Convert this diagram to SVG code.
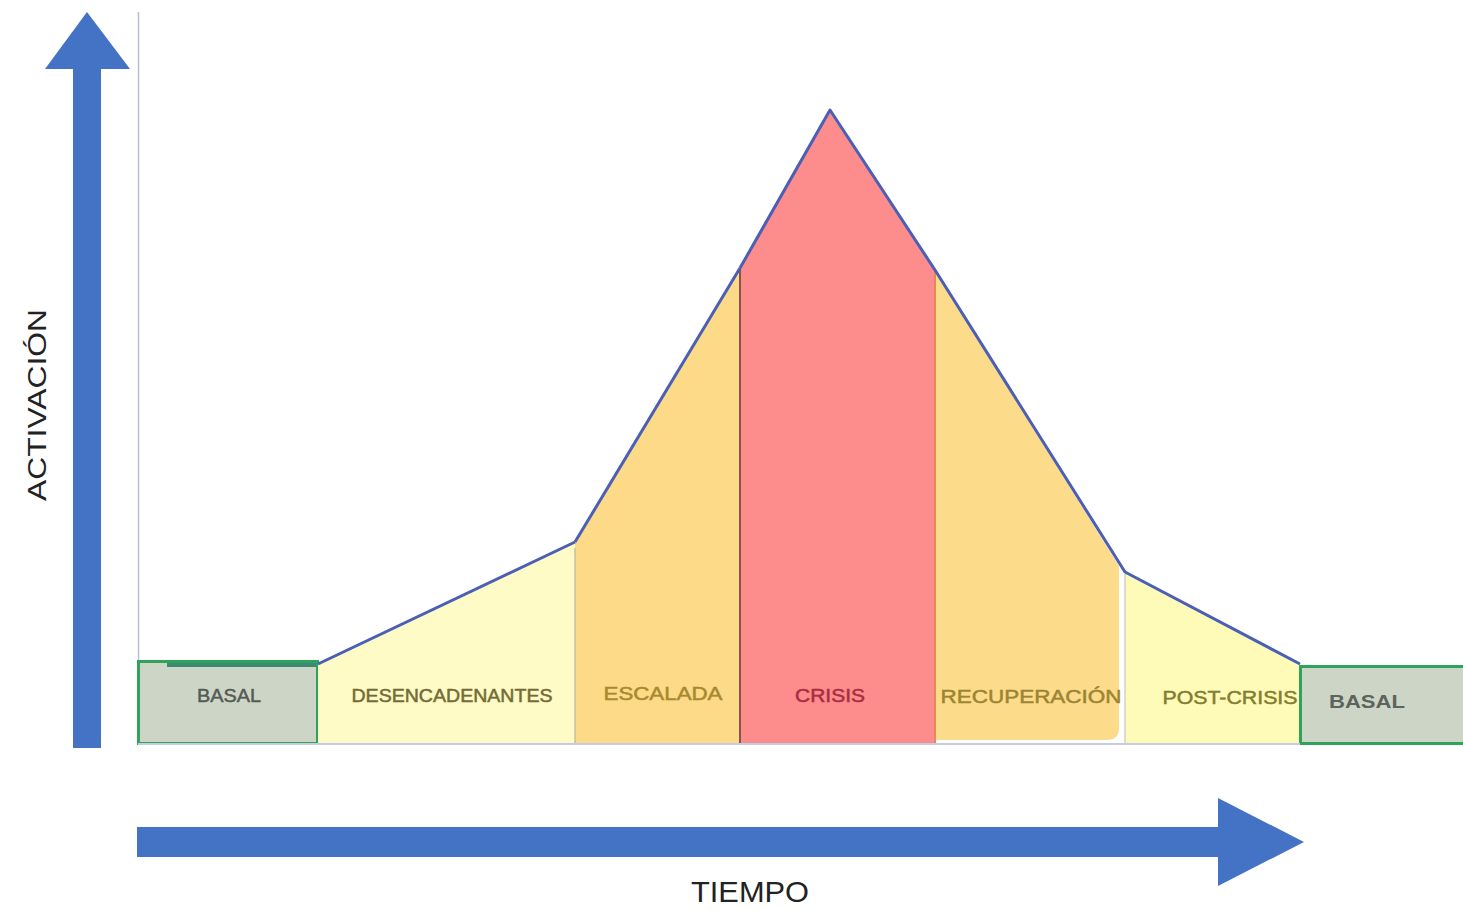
<svg xmlns="http://www.w3.org/2000/svg" width="1463" height="910" viewBox="0 0 1463 910">
<style>
.lbl{font-family:"Liberation Sans",Arial,sans-serif;font-size:19px;text-anchor:middle;stroke-width:0.5px}
.axis{fill:#4472c4}
.ax-t{font-family:"Liberation Sans",Arial,sans-serif;fill:#222;text-anchor:middle}
.basal{fill:#cdd6c6;stroke:#2fa35a;stroke-width:3}
.curve{fill:none;stroke:#4a5fb5;stroke-width:3;stroke-linejoin:round}
</style>
<rect width="1463" height="910" fill="#ffffff"/>

<g id="axis-y">
<rect class="axis" x="73" y="66" width="28" height="682"/>
<polygon class="axis" points="87,12 130,69 45,69"/>
<line x1="138.5" y1="12" x2="138.5" y2="662" stroke="#b8bfd0" stroke-width="1.5"/>
<text class="ax-t" transform="translate(46,405) rotate(-90)" font-size="26" textLength="192" lengthAdjust="spacingAndGlyphs">ACTIVACIÓN</text>
</g>

<g id="axis-x">
<rect class="axis" x="137" y="827" width="1085" height="30"/>
<polygon class="axis" points="1218,798 1304,842 1218,886"/>
<text class="ax-t" x="750" y="902" font-size="29" textLength="118" lengthAdjust="spacingAndGlyphs">TIEMPO</text>
</g>

<g id="basal-left">
<rect class="basal" x="138.5" y="661.5" width="179" height="82"/>
<line x1="167" y1="665" x2="316" y2="665" stroke="#3c8a74" stroke-width="4"/>
<text class="lbl" x="229" y="702" fill="#555a55" stroke="#555a55" textLength="64" lengthAdjust="spacingAndGlyphs">BASAL</text>
</g>

<g id="desencadenantes">
<polygon points="318,664 575,542 575,744 318,744" fill="#fefbc6"/>
<text class="lbl" x="452" y="702" fill="#736b35" stroke="#736b35" textLength="201" lengthAdjust="spacingAndGlyphs">DESENCADENANTES</text>
</g>

<g id="escalada">
<polygon points="575,542 740,268 740,744 575,744" fill="#fcda88"/>
<line x1="575" y1="548" x2="575" y2="744" stroke="#c8c0a0" stroke-width="1.5"/>
<text class="lbl" x="663" y="700" fill="#a8892f" stroke="#a8892f" textLength="119" lengthAdjust="spacingAndGlyphs">ESCALADA</text>
</g>

<g id="crisis">
<polygon points="740,268 830,112 935,270 935,744 740,744" fill="#fd8c8c"/>
<line x1="740" y1="268" x2="740" y2="744" stroke="#7a4a42" stroke-width="1.8"/>
<line x1="935" y1="270" x2="935" y2="744" stroke="#e58a55" stroke-width="2"/>
<text class="lbl" x="830" y="702" fill="#a82e42" stroke="#a82e42" textLength="70" lengthAdjust="spacingAndGlyphs">CRISIS</text>
</g>

<g id="recuperacion">
<path d="M936,272 L1119,566 L1119,728 Q1119,740 1107,740 L936,740 Z" fill="#fcdb8a"/>
<text class="lbl" x="1031" y="703" fill="#9c8532" stroke="#9c8532" textLength="181" lengthAdjust="spacingAndGlyphs">RECUPERACIÓN</text>
</g>

<g id="post-crisis">
<polygon points="1125,572 1300,664 1300,744 1125,744" fill="#fefbb8"/>
<line x1="1125" y1="574" x2="1125" y2="744" stroke="#d0d0c8" stroke-width="1.5"/>
<text class="lbl" x="1230" y="704" fill="#857d30" stroke="#857d30" textLength="135" lengthAdjust="spacingAndGlyphs">POST-CRISIS</text>
</g>

<g id="basal-right">
<rect class="basal" x="1300.5" y="666.5" width="165" height="77"/>
<text class="lbl" x="1367" y="708" fill="#5d635d" font-weight="bold" font-size="20" textLength="76" lengthAdjust="spacingAndGlyphs">BASAL</text>
</g>

<g id="connectors">
<line x1="138" y1="744" x2="1300" y2="744" stroke="#c6cbe0" stroke-width="2"/>
<polyline class="curve" points="318,664 575,542"/>
<polyline class="curve" points="575,542 740,268" stroke="#6d7266"/>
<polyline class="curve" points="740,268 830,110 935,270 1125,572 1300,664"/>
</g>
</svg>
